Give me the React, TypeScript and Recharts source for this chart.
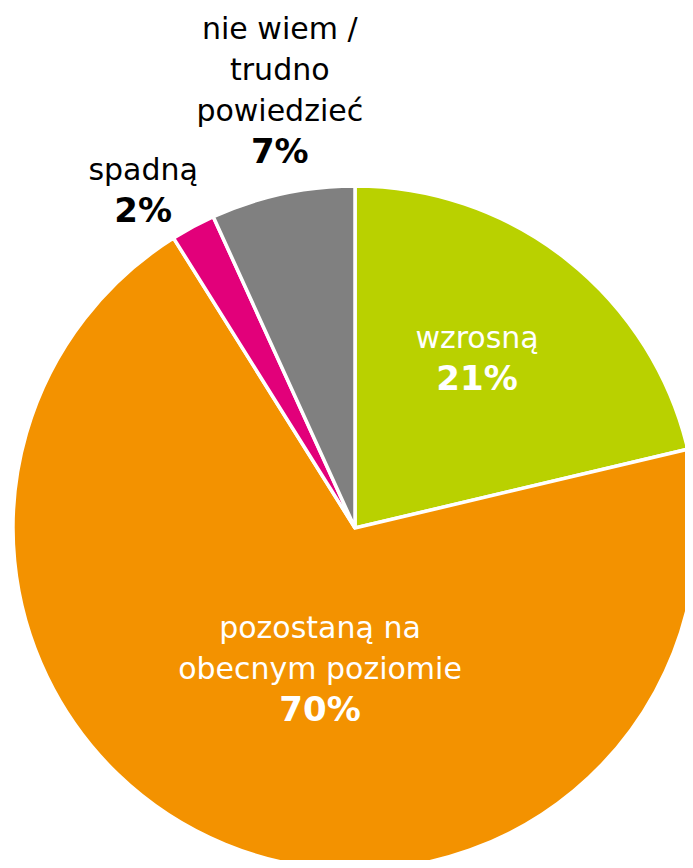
import { PieChart, Pie, Cell } from 'recharts'

const CATEGORIES = ['wzrosną', 'pozostaną na obecnym poziomie', 'spadną', 'nie wiem / trudno powiedzieć']
const VALUES = [21.3, 69.8, 2.1, 6.8]
const LABEL_LINES = [
  ['wzrosną'],
  ['pozostaną na', 'obecnym poziomie'],
  ['spadną'],
  ['nie wiem /', 'trudno', 'powiedzieć'],
]
const COLORS = ['#b9d100', '#f39200', '#e2007a', '#808080']

// label placement: radius as share of outer radius, angle nudge in degrees
const LABEL_LAYOUT = [
  { r: 0.614, da: 2.8, color: '#ffffff' },
  { r: 0.422, da: 8.3, color: '#ffffff' },
  { r: 1.167, da: 3.8, color: '#000000' },
  { r: 1.3, da: -2.5, color: '#000000' },
]

const RADIAN = Math.PI / 180
const LINE_H = 41

const data = CATEGORIES.map((name, i) => ({ name, value: VALUES[i] }))

const renderLabel = (props: any) => {
  const { cx, cy, midAngle, outerRadius, index, value } = props
  const lay = LABEL_LAYOUT[index]
  const a = (midAngle + lay.da) * RADIAN
  const r = outerRadius * lay.r
  const x = cx + r * Math.cos(a)
  const y = cy - r * Math.sin(a)
  const lines = LABEL_LINES[index]
  const n = lines.length + 1
  const y0 = y - ((n - 1) * LINE_H) / 2
  return (
    <text
      x={x}
      y={y0}
      fill={lay.color}
      textAnchor="middle"
      dominantBaseline="central"
      style={{ fontFamily: '"DejaVu Sans", Verdana, sans-serif' }}
    >
      {lines.map((l, i) => (
        <tspan key={i} x={x} y={y0 + i * LINE_H} fontSize={30}>{l}</tspan>
      ))}
      <tspan x={x} y={y0 + lines.length * LINE_H} fontSize={34} fontWeight="bold">
        {`${Math.round(value)}%`}
      </tspan>
    </text>
  )
}

export default function App() {
  // pull the chart over the body margin so it fills the window exactly
  return (
    <div style={{ width: 693, height: 868, margin: -8, background: '#fff' }}>
      <PieChart width={693} height={868} margin={{ top: 0, right: 0, bottom: 0, left: 0 }}>
        <Pie
          data={data}
          dataKey="value"
          nameKey="name"
          cx={355}
          cy={528}
          outerRadius={342}
          startAngle={90}
          endAngle={-270}
          stroke="#ffffff"
          strokeWidth={3.5}
          label={renderLabel}
          labelLine={false}
          isAnimationActive={false}
        >
          {data.map((_, i) => (
            <Cell key={i} fill={COLORS[i]} />
          ))}
        </Pie>
      </PieChart>
    </div>
  )
}
